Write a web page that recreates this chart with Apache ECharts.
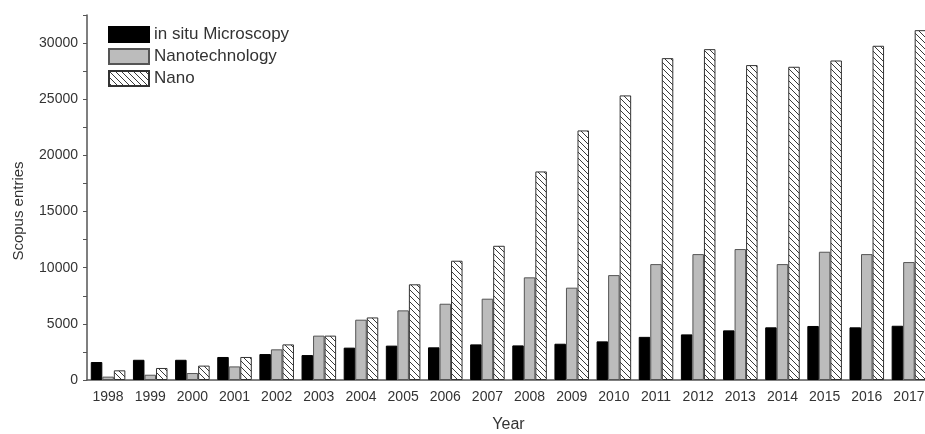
<!DOCTYPE html>
<html>
<head>
<meta charset="utf-8">
<script src="https://cdn.jsdelivr.net/npm/echarts@6/dist/echarts.min.js"></script>
<style>
html,body{margin:0;padding:0;background:#fff;}
#chart{width:925px;height:434px;}
</style>
</head>
<body>
<div id="chart"></div>
<script>
var years = ['1998','1999','2000','2001','2002','2003','2004','2005','2006','2007','2008','2009','2010','2011','2012','2013','2014','2015','2016','2017'];
var inSituMicroscopy = [1600,1800,1800,2050,2310,2220,2880,3060,2910,3170,3080,3230,3440,3840,4060,4420,4690,4810,4690,4830];
var nanotechnology = [300,470,620,1210,2730,3950,5370,6200,6790,7240,9140,8220,9340,10320,11210,11660,10320,11420,11210,10500];
var nano = [860,1070,1280,2050,3170,3950,5570,8520,10620,11950,18570,22220,25340,28660,29460,28040,27890,28450,29760,31150];
var seriesNames = ['in situ Microscopy','Nanotechnology','Nano'];

function hatch() {
  var c = document.createElement('canvas');
  var s = 6;
  c.width = s; c.height = s;
  var g = c.getContext('2d');
  g.fillStyle = '#ffffff';
  g.fillRect(0,0,s,s);
  g.strokeStyle = '#3a3a3a';
  g.lineWidth = 1;
  g.beginPath();
  g.moveTo(-1,-1); g.lineTo(s+1,s+1);
  g.moveTo(-1,s-1); g.lineTo(1,s+1);
  g.moveTo(s-1,-1); g.lineTo(s+1,1);
  g.stroke();
  return c;
}

var chart = echarts.init(document.getElementById('chart'), null, {renderer:'canvas'});
var font = 'Liberation Sans, Arial, sans-serif';
chart.setOption({
  animation:false,
  backgroundColor:'#ffffff',
  textStyle:{fontFamily:font},
  legend:{
    orient:'vertical', left:103, top:20,
    itemWidth:40, itemHeight:15, itemGap:3,
    icon:'rect',
    textStyle:{fontSize:17, color:'#333', fontFamily:font, lineHeight:19},
    data:seriesNames
  },
  grid:{left:87, right:-5, top:15, bottom:54, outerBoundsMode:'none', containLabel:false},
  xAxis:{
    type:'category', data:years,
    name:'Year', nameLocation:'middle', nameGap:37,
    nameTextStyle:{fontSize:16, color:'#333'},
    axisLine:{lineStyle:{color:'#555', width:1.5}},
    axisTick:{alignWithLabel:true, length:4, lineStyle:{color:'#555'}},
    axisLabel:{fontSize:14, color:'#333', margin:10, interval:0}
  },
  yAxis:{
    type:'value', min:0, max:32500, interval:2500,
    axisLine:{show:true, lineStyle:{color:'#555', width:1.5}},
    axisTick:{show:true, length:4, lineStyle:{color:'#555'}},
    splitLine:{show:false},
    axisLabel:{fontSize:14, color:'#333', margin:9,
      formatter:function(v){ return (v % 5000 === 0) ? String(v) : ''; }}
  },
  graphic:[{
    type:'text', x:19, y:211, rotation:Math.PI/2,
    style:{text:'Scopus entries', fontSize:15, fill:'#333', fontFamily:font, align:'center', verticalAlign:'middle'}
  }],
  series:[
    {name:seriesNames[0], type:'bar', data:inSituMicroscopy, barGap:'0%', barCategoryGap:'18%',
      itemStyle:{color:'#000000', borderColor:'#000', borderWidth:1}},
    {name:seriesNames[1], type:'bar', data:nanotechnology, barGap:'0%', barCategoryGap:'18%',
      itemStyle:{color:'#bcbcbc', borderColor:'#555', borderWidth:1}},
    {name:seriesNames[2], type:'bar', data:nano, barGap:'0%', barCategoryGap:'18%',
      itemStyle:{color:{image:hatch(), repeat:'repeat'}, borderColor:'#333', borderWidth:1}}
  ]
});
</script>
</body>
</html>
